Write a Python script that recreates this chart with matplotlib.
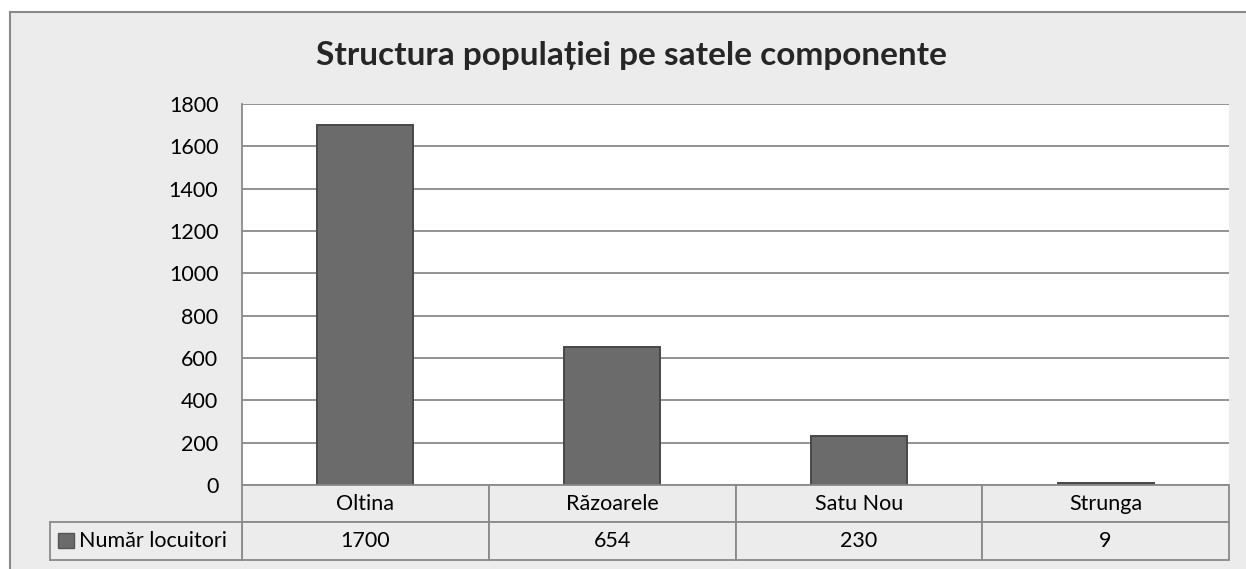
import matplotlib.pyplot as plt
from matplotlib.patches import Rectangle
from matplotlib.transforms import blended_transform_factory
import numpy as np

# data
sate = ["Oltina", "Răzoarele", "Satu Nou", "Strunga"]
locuitori = [1700, 654, 230, 9]
serie = "Număr locuitori"
titlu = "Structura populației pe satele componente"
y_ticks = [0, 200, 400, 600, 800, 1000, 1200, 1400, 1600, 1800]

W, H = 1246, 569
plt.rcParams['font.family'] = ['Lato', 'DejaVu Sans']

fig = plt.figure(figsize=(W / 100, H / 100), dpi=100)
fig.patch.set_facecolor('white')

def px(x0, y0, x1, y1):
    # pixel box (top-left origin) -> figure fraction
    return [x0 / W, 1 - y1 / H, (x1 - x0) / W, (y1 - y0) / H]

# outer chart frame
bg = '#ececec'
line_c = '#8a8a8a'
fs = 15.5
frame = Rectangle((10 / W, -0.1), 1.2, 1 - 12 / H + 0.1, transform=fig.transFigure,
                  facecolor=bg, edgecolor=line_c, linewidth=1.5, zorder=-10)
fig.patches.append(frame)

fig.text(631 / W, 1 - 56 / H, titlu, ha='center', va='center', fontsize=24,
         fontweight='bold', color='#262626')

ax = fig.add_axes(px(242, 104, 1229, 485))
ax.set_facecolor('white')
x = np.arange(len(sate))
ax.bar(x, locuitori, width=0.39, color='#6b6b6b', edgecolor='#484848', linewidth=1.4, zorder=3)
ax.set_xlim(-0.5, len(sate) - 0.5)
ax.set_ylim(0, 1800)
ax.set_yticks(y_ticks)
ax.set_yticklabels([str(v) for v in y_ticks], fontsize=fs, color='black')
ax.tick_params(axis='y', length=0, pad=17)
ax.tick_params(axis='x', length=0, labelbottom=False)
ax.yaxis.grid(True, color=line_c, linewidth=1.3, zorder=1)
ax.set_axisbelow(True)
for s in ['top', 'right', 'bottom']:
    ax.spines[s].set_visible(False)
ax.spines['left'].set_color(line_c)
ax.spines['left'].set_linewidth(1.3)

# data table under the axis
tr = blended_transform_factory(ax.transData, ax.transAxes)
plot_h = 485 - 104
row1 = -(522 - 485) / plot_h
row2 = -(560 - 485) / plot_h
for i, (s, v) in enumerate(zip(sate, locuitori)):
    ax.add_patch(Rectangle((i - 0.5, row1), 1, -row1, transform=tr, facecolor=bg,
                           edgecolor=line_c, linewidth=1.3, clip_on=False, zorder=4))
    ax.add_patch(Rectangle((i - 0.5, row2), 1, row1 - row2, transform=tr, facecolor=bg,
                           edgecolor=line_c, linewidth=1.3, clip_on=False, zorder=4))
    ax.text(i, row1 / 2, s, transform=tr, ha='center', va='center', fontsize=fs, zorder=5)
    ax.text(i, (row1 + row2) / 2, str(v), transform=tr, ha='center', va='center', fontsize=fs, zorder=5)

# legend cell with series name
ax_l = fig.add_axes(px(50, 522, 242, 560))
ax_l.set_xlim(0, 192)
ax_l.set_ylim(38, 0)
ax_l.set_facecolor(bg)
for s in ax_l.spines.values():
    s.set_color(line_c)
    s.set_linewidth(1.3)
ax_l.set_xticks([])
ax_l.set_yticks([])
ax_l.add_patch(Rectangle((8, 11), 16, 15, facecolor='#6b6b6b', edgecolor='#555555', linewidth=1))
ax_l.text(29, 19, serie, ha='left', va='center', fontsize=fs)

fig.savefig('out.png', dpi=100, facecolor='white')
